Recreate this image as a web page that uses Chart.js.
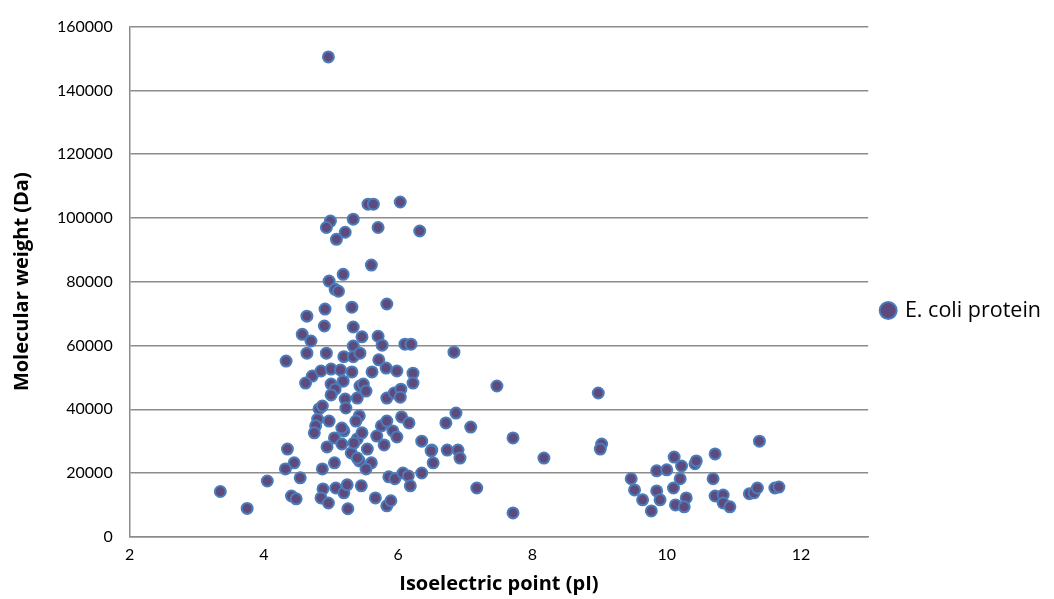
<!DOCTYPE html>
<html>
<head>
<meta charset="utf-8">
<script src="https://cdn.jsdelivr.net/npm/chart.js@4"></script>
<style>
  html, body { margin: 0; padding: 0; background: #fff; }
  #wrap { width: 1054px; height: 599px; }
</style>
</head>
<body>
<div id="wrap"><canvas id="chart" width="1054" height="599"></canvas></div>
<script>
// isoelectric point (pI) of each protein
const pI = [
  4.96, 5.55, 5.63, 6.03, 5.33, 4.99, 4.93, 5.70, 5.21, 5.08,
  6.32, 5.60, 5.18, 4.97, 5.06, 5.11, 5.83, 4.91, 5.31, 4.64,
  4.90, 5.33, 4.57, 4.70, 5.46, 5.70, 5.76, 6.10, 6.19, 5.33,
  6.83, 4.64, 4.93, 4.33, 5.19, 5.33, 5.43, 5.71, 4.72, 4.62,
  4.85, 5.00, 5.14, 5.31, 5.18, 5.00, 5.06, 5.00, 5.21, 5.22,
  5.39, 5.43, 5.42, 4.82, 4.87, 4.97, 4.80, 4.77, 4.75, 5.19,
  5.05, 5.16, 4.94, 5.30, 4.35, 4.45, 4.32, 4.87, 5.05, 4.54,
  4.05, 4.41, 4.48, 4.88, 4.85, 4.96, 5.07, 5.19, 5.24, 5.45,
  5.25, 3.75, 3.35, 5.66, 5.83, 5.89, 5.86, 5.95, 6.07, 6.15,
  6.18, 6.35, 6.52, 6.35, 6.50, 6.73, 6.89, 6.92, 6.71, 6.86,
  7.08, 7.17, 5.61, 5.82, 5.98, 6.22, 6.22, 5.48, 5.52, 5.83,
  5.94, 6.04, 6.03, 5.75, 5.83, 6.05, 6.16, 5.92, 5.98, 5.68,
  5.79, 5.54, 5.39, 5.46, 5.42, 5.60, 5.52, 6.49, 5.16, 5.37,
  5.34, 5.39, 7.47, 8.98, 7.71, 9.03, 9.01, 8.17, 7.71, 9.47,
  9.52, 9.64, 9.77, 9.85, 10.00, 9.85, 9.90, 10.11, 10.22, 10.20,
  10.10, 10.29, 10.13, 10.26, 10.42, 10.44, 10.72, 10.69, 10.72, 10.84,
  10.84, 10.94, 11.38, 11.23, 11.30, 11.35, 11.61, 11.67
];

// molecular weight (Da) of each protein
const molWeight = [
  150500, 104300, 104300, 105000, 99600, 99000, 97000, 97000, 95500, 93300,
  95900, 85200, 82300, 80200, 77600, 77000, 73000, 71400, 72000, 69200,
  66100, 65800, 63500, 61400, 62700, 62900, 60100, 60400, 60400, 59800,
  57900, 57600, 57600, 55100, 56500, 56500, 57600, 55500, 50400, 48200,
  52000, 52600, 52300, 51700, 48800, 47900, 46300, 44500, 43200, 40400,
  43500, 47300, 37900, 40100, 41000, 36300, 36900, 34800, 32600, 33200,
  31000, 29100, 28200, 26300, 27500, 23200, 21300, 21300, 23200, 18500,
  17500, 12800, 11900, 15000, 12200, 10600, 15300, 13800, 16300, 16000,
  8800, 8900, 14200, 12200, 9700, 11300, 18800, 18200, 20000, 19100,
  16000, 20000, 23200, 30000, 27200, 27200, 27200, 24700, 35700, 38800,
  34400, 15300, 51700, 52900, 52000, 51300, 48200, 47900, 45700, 43500,
  45100, 46300, 43800, 34800, 36300, 37600, 35700, 33200, 31300, 31600,
  28800, 27500, 30700, 32600, 23800, 23200, 21300, 26900, 34100, 36300,
  29400, 24700, 47300, 45100, 31000, 29100, 27500, 24700, 7500, 18200,
  14700, 11600, 8100, 20700, 21000, 14400, 11600, 25000, 22200, 18200,
  15300, 12200, 10000, 9400, 22900, 23800, 26000, 18200, 12800, 13100,
  10600, 9400, 30000, 13500, 13800, 15300, 15300, 15600
];

const seriesName = 'E. coli protein';
const xTitle = 'Isoelectric point (pI)';
const yTitle = 'Molecular weight (Da)';

const points = pI.map((x, i) => ({ x: x, y: molWeight[i] }));

const gridColor = '#8c8c8c';
const tickFont = 'Lato, "Open Sans", sans-serif';
const textFont = '"Open Sans", Lato, sans-serif';

new Chart(document.getElementById('chart'), {
  type: 'scatter',
  data: {
    datasets: [{
      label: seriesName,
      data: points,
      pointRadius: 5.5,
      pointHoverRadius: 5.5,
      pointBorderWidth: 2,
      pointBackgroundColor: '#5f4a7e',
      pointBorderColor: '#4a7ebb'
    }]
  },
  options: {
    responsive: false,
    animation: false,
    layout: { padding: { left: 10, right: 3, top: 25, bottom: 3 } },
    plugins: {
      tooltip: { enabled: false },
      legend: {
        position: 'right',
        labels: {
          usePointStyle: true,
          pointStyle: 'circle',
          boxWidth: 12,
          boxHeight: 12,
          padding: 14,
          color: '#000',
          font: { family: textFont, size: 21.5 }
        }
      }
    },
    scales: {
      x: {
        type: 'linear',
        min: 2,
        max: 13,
        afterBuildTicks: axis => {
          axis.ticks = axis.ticks.filter(t => t.value % 2 === 0);
        },
        ticks: { stepSize: 2, color: '#000', padding: 8, font: { family: tickFont, size: 16 },
          callback: v => String(v) },
        grid: { display: false, drawTicks: false },
        border: { display: true, color: gridColor, width: 1.5 },
        title: {
          display: true,
          text: xTitle,
          color: '#000',
          padding: { top: 0, bottom: 0 },
          font: { family: textFont, size: 20, weight: 'bold' }
        }
      },
      y: {
        min: 0,
        max: 160000,
        ticks: { stepSize: 20000, color: '#000', padding: 17, font: { family: tickFont, size: 16 },
          callback: v => String(v) },
        grid: { color: gridColor, lineWidth: 1.5, drawTicks: false },
        border: { display: true, color: gridColor, width: 1.5 },
        title: {
          display: true,
          text: yTitle,
          color: '#000',
          padding: { top: 0, bottom: 6 },
          font: { family: textFont, size: 20, weight: 'bold' }
        }
      }
    }
  }
});
</script>
</body>
</html>
